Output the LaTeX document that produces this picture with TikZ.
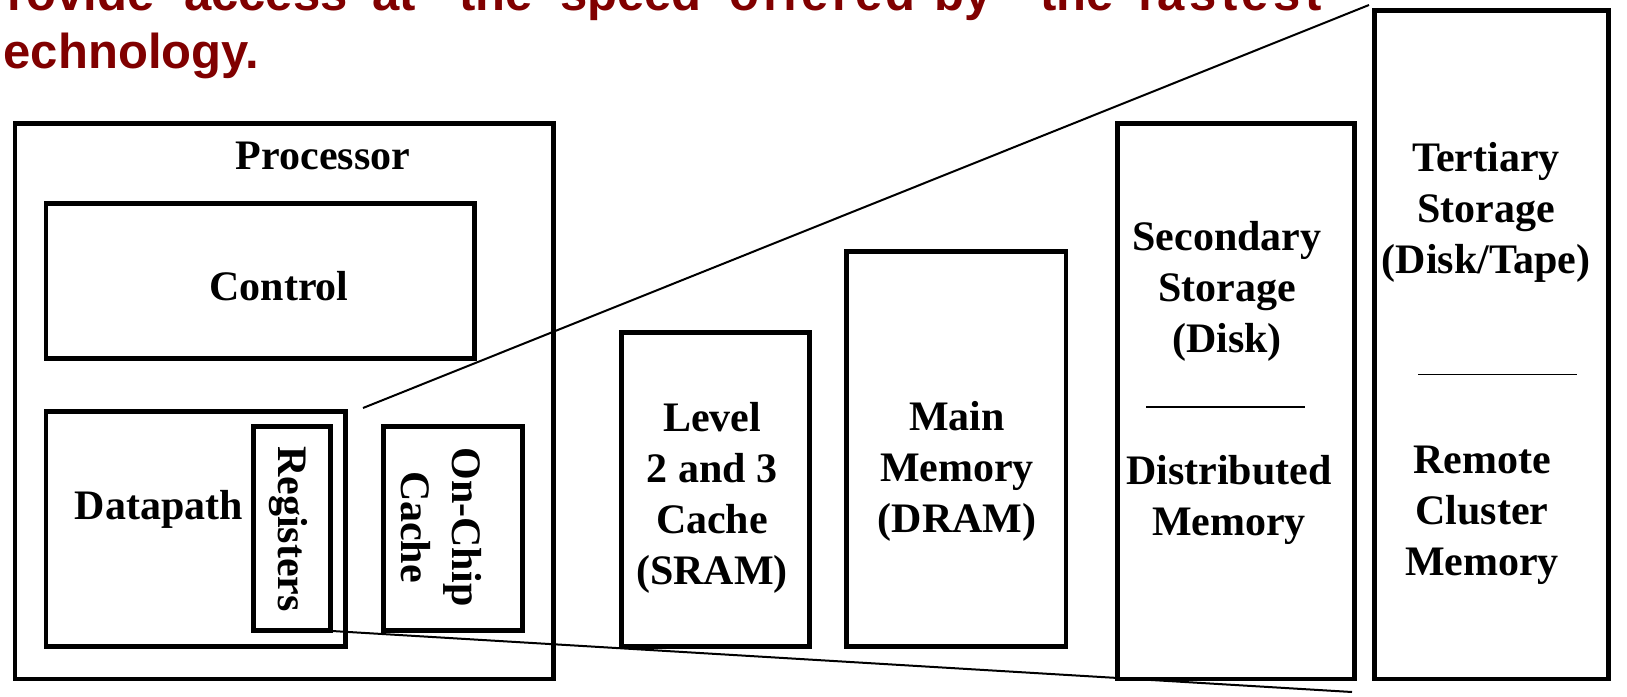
\documentclass[tikz,border=0pt]{standalone}
\usepackage{fontspec}
\setmainfont{Liberation Serif}
\newfontfamily\titlefont{Liberation Sans}
\definecolor{titlered}{RGB}{128,0,0}
\begin{document}
\begin{tikzpicture}[x=1pt,y=-1pt,
  box/.style={draw, line width=4.5pt, inner sep=0pt, anchor=north west},
  lbl/.style={font=\bfseries\fontsize{42}{51}\selectfont, align=center, inner sep=0pt},
  ttl/.style={font=\titlefont\bfseries\fontsize{49}{58}\selectfont, text=titlered, anchor=base west, inner sep=0pt},
  link/.style={line width=2pt},
  sepline/.style={line width=1.6pt}]
\useasboundingbox (0,0) rectangle (1627,696);
\fill[white] (0,0) rectangle (1627,696);

% title
\node[ttl] (t1) at (7,10) {\makebox[177pt][l]{rovide }\makebox[188pt][l]{access }\makebox[87pt][l]{at }\makebox[101pt][l]{the }\makebox[169pt][l]{speed }\makebox[205pt][l]{{\addfontfeature{LetterSpace=7}offered} }\makebox[106pt][l]{by }\makebox[97pt][l]{the }{\addfontfeature{LetterSpace=9}fastest}};
\node[ttl] (t2) at (3.5,68) {echnology.};

% boxes
\node[box, minimum width=538.5pt, minimum height=555.5pt] (proc) at (12.5,121) {};
\node[box, minimum width=428.4pt, minimum height=155pt] (ctrl) at (43.6,201) {};
\node[box, minimum width=299.4pt, minimum height=235pt] (dp) at (43.6,409) {};
\node[box, minimum width=77pt, minimum height=204pt] (reg) at (251,424) {};
\node[box, minimum width=139pt, minimum height=204pt] (occ) at (381,424) {};
\node[box, minimum width=188pt, minimum height=314pt] (l2) at (619,330) {};
\node[box, minimum width=219.5pt, minimum height=395pt] (mm) at (844,249) {};
\node[box, minimum width=237pt, minimum height=555.5pt] (sec) at (1115,121) {};
\node[box, minimum width=234pt, minimum height=668.5pt] (ter) at (1372,8) {};

% labels
\node[lbl] (procl) at (323,156) {Processor};
\node[lbl] (ctrll) at (279,286) {Control};
\node[lbl] (dpl) at (159,509) {Datapath};
\node[lbl, rotate=-90] (regl) at (288.5,529) {Registers};
\node[lbl, rotate=-90] (occl) at (441,527) {On-Chip\\Cache};
\node[lbl] (l2l) at (712,498) {Level\\2 and 3\\Cache\\(SRAM)};
\node[lbl] (mml) at (957,471) {Main\\Memory\\(DRAM)};
\node[lbl] (secl) at (1227,291) {Secondary\\Storage\\(Disk)};
\node[lbl] (dml) at (1229,500) {Distributed\\Memory};
\node[lbl] (terl) at (1486,212) {Tertiary\\Storage\\(Disk/Tape)};
\node[lbl] (rcl) at (1482,515) {Remote\\Cluster\\Memory};

% separators
\coordinate (s1a) at (1146,407);
\coordinate (s1b) at (1305,407);
\coordinate (s2a) at (1418,374.5);
\coordinate (s2b) at (1577,374.5);
\draw[sepline] (s1a) -- (s1b);
\draw[sepline] (s2a) -- (s2b);

% zoom lines
\coordinate (ua) at (363,408);
\coordinate (ub) at (1369,5);
\coordinate (la) at (332,631);
\coordinate (lb) at (1352,692);
\draw[link] (ua) -- (ub);
\draw[link] (la) -- (lb);
\end{tikzpicture}
\end{document}
